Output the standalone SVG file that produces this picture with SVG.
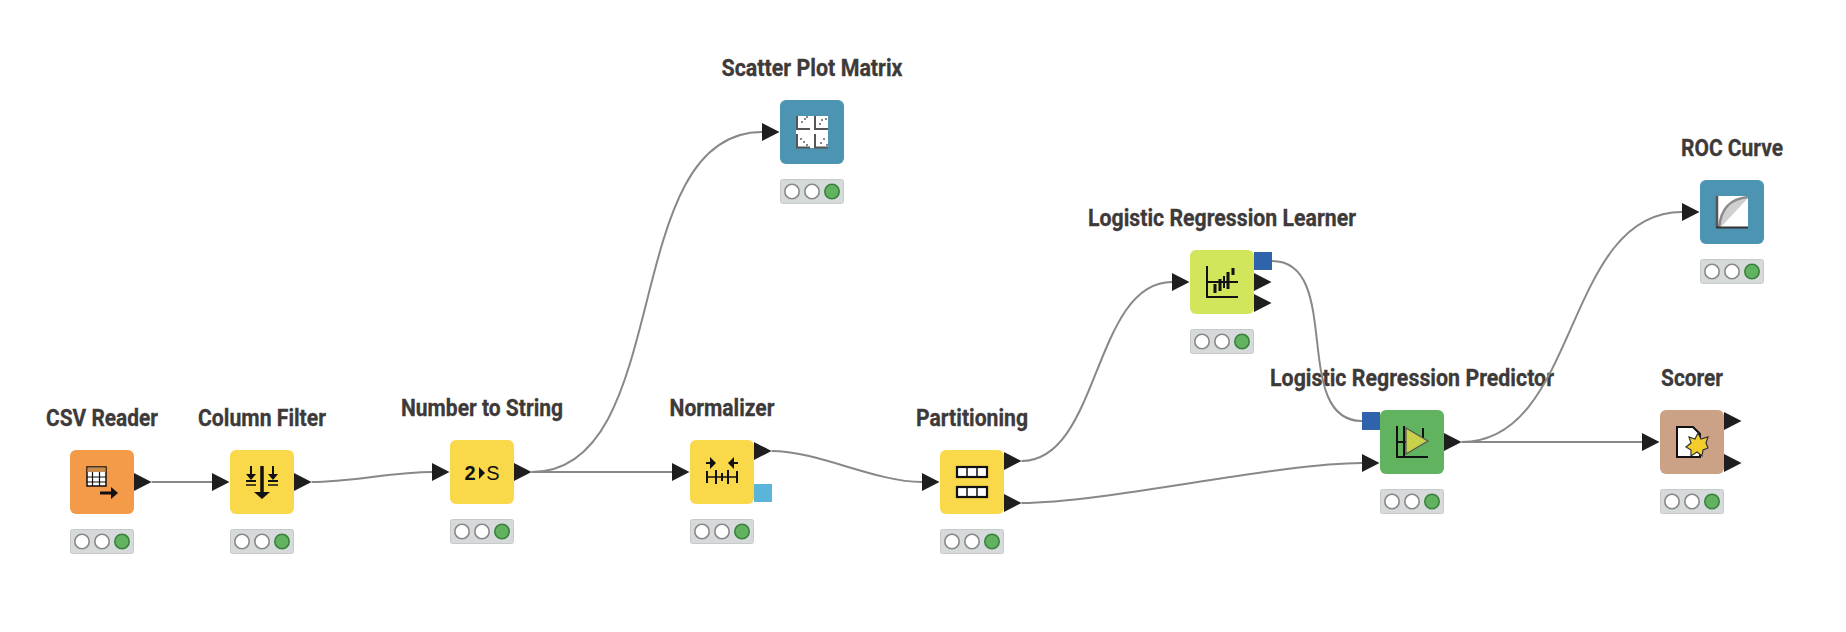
<svg xmlns="http://www.w3.org/2000/svg" width="1846" height="632" viewBox="0 0 1846 632">
<style>
.lbl{font-family:Roboto,"Liberation Sans",sans-serif;font-weight:700;font-size:23.500px;fill:#3e3a39;stroke:#3e3a39;stroke-width:.3;text-anchor:middle}
.con{fill:none;stroke:#888;stroke-width:2}
.st{fill:#d6dadb;stroke:#c6cacb;stroke-width:1}
.c{fill:#fff;stroke:#888;stroke-width:1.6}
.g{fill:#62b35f;stroke:#3c8040;stroke-width:1.6}
.orange{fill:#f39b48}.yellow{fill:#f9d84a}.teal{fill:#4d93b2}.lime{fill:#d3e55a}.green{fill:#62b35f}.tan{fill:#cba285}
.k{fill:#111}.ks{stroke:#111;fill:none;stroke-width:2}
</style>
<defs>
<path id="tri" d="M0 -9L17.500 0L0 9Z" fill="#1e1e1e"/>
<g id="status">
<rect class="st" x="0.500" y="0.500" width="63" height="24" rx="2"/>
<circle class="c" cx="12" cy="12.500" r="7.200"/><circle class="c" cx="32" cy="12.500" r="7.200"/><circle class="g" cx="52" cy="12.500" r="7.200"/>
</g>
</defs>
<g id="csv-reader">
<text class="lbl" x="102" y="426" textLength="112" lengthAdjust="spacingAndGlyphs">CSV Reader</text>
<rect class="orange" x="70" y="450" width="64" height="64" rx="6"/>
<rect x="87" y="467" width="19" height="19" fill="#fff" stroke="#111" stroke-width="1.500"/>
<rect x="87.500" y="467.500" width="18" height="4.500" fill="#c98a4a"/>
<path d="M92.500 472V486M99.500 472V486M87 477H106M87 482H106" stroke="#111" stroke-width="1.200"/>
<path d="M100 493H113" stroke="#111" stroke-width="3"/><path d="M111 487L118 493L111 499Z" class="k"/>
<use href="#tri" x="134" y="482"/>
<use href="#status" x="70" y="529"/>
</g>
<g id="column-filter">
<text class="lbl" x="262" y="426" textLength="128" lengthAdjust="spacingAndGlyphs">Column Filter</text>
<rect class="yellow" x="230" y="450" width="64" height="64" rx="6"/>
<path d="M262 466V494" stroke="#111" stroke-width="3.500"/>
<path d="M251 466V476M273 466V476" stroke="#111" stroke-width="2"/>
<path d="M246 481H256M268 481H278" stroke="#111" stroke-width="2"/>
<path d="M246 485H256M268 485H278" stroke="#111" stroke-width="1.500"/>
<path d="M246 474L251 480L256 474ZM268 474L273 480L278 474ZM254 492H270L262 499Z" class="k"/>
<use href="#tri" x="212" y="482"/><use href="#tri" x="294" y="482"/>
<use href="#status" x="230" y="529"/>
</g>
<g id="number-to-string">
<text class="lbl" x="482" y="416" textLength="162" lengthAdjust="spacingAndGlyphs">Number to String</text>
<rect class="yellow" x="450" y="440" width="64" height="64" rx="6"/>
<text x="470" y="480" font-family="'Liberation Sans',sans-serif" font-size="20" font-weight="700" fill="#111" text-anchor="middle">2</text>
<path d="M479 467L485 473L479 479Z" class="k"/>
<text x="493" y="480" font-family="'Liberation Sans',sans-serif" font-size="20" fill="#111" text-anchor="middle">S</text>
<use href="#tri" x="432" y="472"/><use href="#tri" x="514" y="472"/>
<use href="#status" x="450" y="519"/>
</g>
<g id="normalizer">
<text class="lbl" x="722" y="416" textLength="105" lengthAdjust="spacingAndGlyphs">Normalizer</text>
<rect class="yellow" x="690" y="440" width="64" height="64" rx="6"/>
<path d="M706 477H738" stroke="#111" stroke-width="1.500"/>
<path d="M707 471V483M737 471V483M716 473V481M722 473V481M728 473V481" stroke="#111" stroke-width="2"/>
<path d="M706 463H712M732 463H738M716 470V484M728 470V484" stroke="#111" stroke-width="2"/>
<path d="M710 457L716 463L710 469ZM734 457L728 463L734 469Z" class="k"/>
<use href="#tri" x="672" y="472"/><use href="#tri" x="754" y="451"/>
<rect x="754" y="484" width="18" height="18" fill="#5ab5d9"/>
<use href="#status" x="690" y="519"/>
</g>
<g id="scatter-plot-matrix">
<text class="lbl" x="812" y="76" textLength="181" lengthAdjust="spacingAndGlyphs">Scatter Plot Matrix</text>
<rect class="teal" x="780" y="100" width="64" height="64" rx="6"/>
<rect x="796" y="116" width="32" height="32" fill="#fff"/>
<path d="M797 116V129H810M815 116V129H828M797 134V147.500H810M815 134V147.500H828" fill="none" stroke="#555" stroke-width="2"/>
<path d="M801 122h2M804 119h2M806 117h2M819 124h2M821 120h2M825 119h2M800 139h2M803 142h2M806 145h2M820 143h2M823 139h2M826 145h2" stroke="#888" stroke-width="2"/>
<use href="#tri" x="762" y="132"/>
<use href="#status" x="780" y="179"/>
</g>
<g id="partitioning">
<text class="lbl" x="972" y="426" textLength="112" lengthAdjust="spacingAndGlyphs">Partitioning</text>
<rect class="yellow" x="940" y="450" width="64" height="64" rx="6"/>
<rect x="957" y="467" width="30" height="10" fill="#fff" stroke="#111" stroke-width="2.200"/>
<rect x="957" y="487" width="30" height="10" fill="#fff" stroke="#111" stroke-width="2.200"/>
<path d="M967 467V477M977 467V477M967 487V497M977 487V497" stroke="#111" stroke-width="1.500"/>
<use href="#tri" x="922" y="482"/><use href="#tri" x="1004" y="461"/><use href="#tri" x="1004" y="503"/>
<use href="#status" x="940" y="529"/>
</g>
<g id="logistic-regression-learner">
<text class="lbl" x="1222" y="226" textLength="268" lengthAdjust="spacingAndGlyphs">Logistic Regression Learner</text>
<rect class="lime" x="1190" y="250" width="64" height="64" rx="6"/>
<path d="M1207 266V297H1238M1207 282H1238" class="ks"/>
<path d="M1215 284V293M1220 279V291M1228 272V289M1233 268V275" stroke="#111" stroke-width="3"/>
<path d="M1224 276V288" stroke="#111" stroke-width="2"/>
<use href="#tri" x="1172" y="282"/>
<rect x="1254" y="252" width="18" height="18" fill="#2f64ad"/>
<use href="#tri" x="1254" y="282"/><use href="#tri" x="1254" y="303"/>
<use href="#status" x="1190" y="329"/>
</g>
<g id="logistic-regression-predictor">
<text class="lbl" x="1412" y="386" textLength="284" lengthAdjust="spacingAndGlyphs">Logistic Regression Predictor</text>
<rect class="green" x="1380" y="410" width="64" height="64" rx="6"/>
<path d="M1397 426V457H1428M1397 442H1406M1404 426V457M1423 428V440" class="ks"/>
<path d="M1406 428L1428 441L1406 454Z" fill="#c8d14a" stroke="#555" stroke-width="1.200"/>
<rect x="1362" y="412" width="18" height="18" fill="#2f64ad"/>
<use href="#tri" x="1362" y="463"/><use href="#tri" x="1444" y="442"/>
<use href="#status" x="1380" y="489"/>
</g>
<g id="scorer">
<text class="lbl" x="1692" y="386" textLength="62" lengthAdjust="spacingAndGlyphs">Scorer</text>
<rect class="tan" x="1660" y="410" width="64" height="64" rx="6"/>
<path d="M1677 427H1693L1700 434V457H1677Z" fill="#fff" stroke="#111" stroke-width="2"/>
<path d="M1698 433L1701 439L1708 437L1706 443L1708 448L1703 450L1702 456L1697 452L1691 456L1691 450L1686 447L1691 443L1689 437L1695 439Z" fill="#f3cc2e" stroke="#333" stroke-width="1.200"/>
<use href="#tri" x="1642" y="442"/><use href="#tri" x="1724" y="421"/><use href="#tri" x="1724" y="463"/>
<use href="#status" x="1660" y="489"/>
</g>
<g id="roc-curve">
<text class="lbl" x="1732" y="156" textLength="102" lengthAdjust="spacingAndGlyphs">ROC Curve</text>
<rect class="teal" x="1700" y="180" width="64" height="64" rx="6"/>
<rect x="1716" y="196" width="32" height="32" fill="#fff"/>
<path d="M1720 228C1722 208 1730 199 1748 198L1720 228Z" fill="#cfcfcf"/>
<path d="M1719 228C1721 208 1730 199 1748 197" fill="none" stroke="#8a8a8a" stroke-width="2.500"/>
<path d="M1717 228V196" stroke="#555" stroke-width="2.500"/><path d="M1716 227.500H1748" stroke="#333" stroke-width="2"/>
<use href="#tri" x="1682" y="212"/>
<use href="#status" x="1700" y="259"/>
</g>
<g id="connectors">
<path class="con" d="M151.500 482H212"/>
<path class="con" d="M311.500 482C352 482 392 472 432 472"/>
<path class="con" d="M531.500 472H672"/>
<path class="con" d="M531.500 472C676 472 617 132 762 132"/>
<path class="con" d="M771.500 451C818 451 875 482 922 482"/>
<path class="con" d="M1021.500 461C1100 461 1093 282 1172 282"/>
<path class="con" d="M1021.500 503C1105 503 1278 463 1362 463"/>
<path class="con" d="M1272 261C1344 261 1290 421 1362 421"/>
<path class="con" d="M1461.500 442H1642"/>
<path class="con" d="M1461.500 442C1580 442 1563 212 1682 212"/>
</g>
</svg>
